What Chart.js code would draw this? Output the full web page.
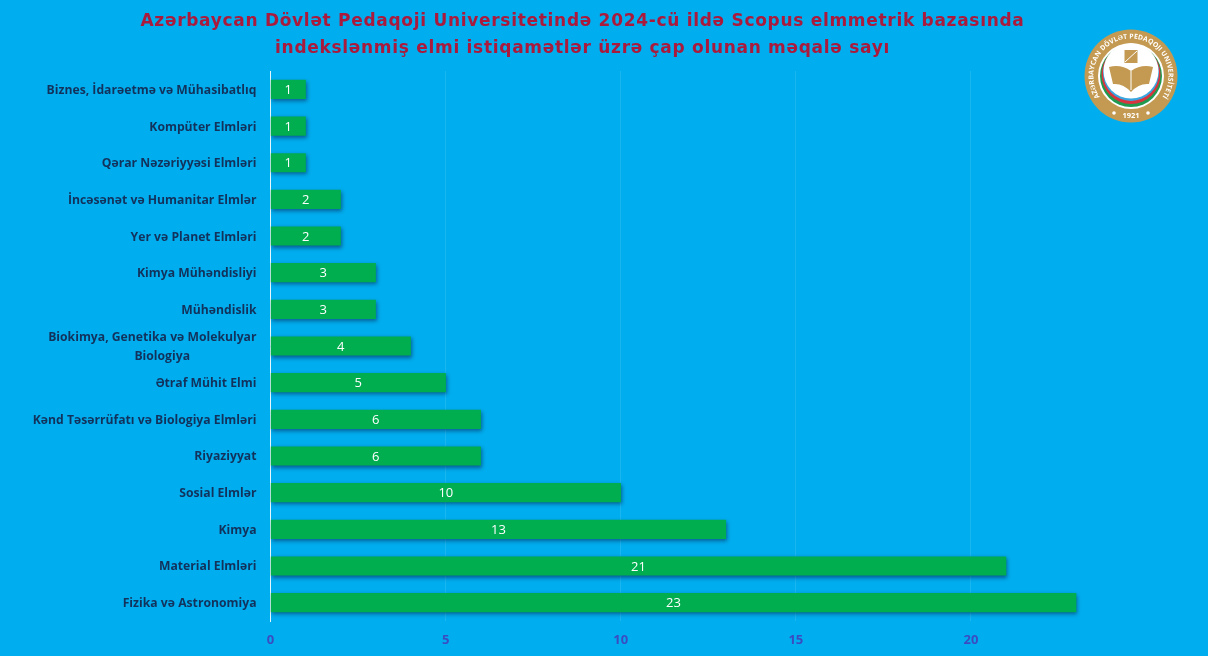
<!DOCTYPE html>
<html lang="az">
<head>
<meta charset="utf-8">
<title>Scopus məqalə sayı</title>
<script src="https://cdn.jsdelivr.net/npm/chart.js@4"></script>
<style>
  html, body { margin: 0; padding: 0; background: #00aeef; overflow: hidden; }
  #wrap { position: relative; width: 1208px; height: 656px; }
  #logo { position: absolute; left: 1081px; top: 26px; }
</style>
</head>
<body>
<div id="wrap">
  <canvas id="articles-chart" width="1208" height="656"></canvas>
  <svg id="logo" width="100" height="100" viewBox="-50 -50 100 100">
    <defs>
      <path id="ring-path" d="M -31 21.3 A 37.6 37.6 0 1 1 31 21.3"></path>
    </defs>
    <circle r="46.5" fill="#c49a52"></circle>
    <circle r="33" fill="#ffffff"></circle>
    <circle r="31" fill="#1f9a4e"></circle>
    <circle cy="-1.5" r="29.5" fill="#d8343f"></circle>
    <circle cy="-3" r="28" fill="#3aa6e0"></circle>
    <circle cy="-5" r="27.5" fill="#ffffff"></circle>
    <rect x="-6.5" y="-26" width="13" height="13" fill="#c49a52"></rect>
    <path d="M -6 -14 L 6 -25" stroke="#ffffff" stroke-width="1"></path>
    <path d="M -22 -9 Q -10 -12 0 -5 Q 10 -12 22 -9 L 18 8 Q 8 7 0 16 Q -8 7 -18 8 Z" fill="#c49a52"></path>
    <path d="M 0 -5 L 0 14" stroke="#ffffff" stroke-width="1"></path>
    <text font-family="Open Sans" font-weight="700" font-size="6.8" fill="#ffffff" letter-spacing="0.1">
      <textPath href="#ring-path" startOffset="50%" text-anchor="middle">AZƏRBAYCAN DÖVLƏT PEDAQOJI UNIVERSİTETİ</textPath>
    </text>
    <text y="41.5" text-anchor="middle" font-family="Open Sans" font-weight="700" font-size="7.5" fill="#ffffff">1921</text>
    <circle cx="-17" cy="37" r="1.8" fill="#ffffff"></circle>
    <circle cx="17" cy="37" r="1.8" fill="#ffffff"></circle>
  </svg>
</div>
<script>
// データ
const titleLines = [
    'Azərbaycan Dövlət Pedaqoji Universitetində 2024-cü ildə Scopus elmmetrik bazasında',
    'indekslənmiş elmi istiqamətlər üzrə çap olunan məqalə sayı'
];
const categories = [
    'Biznes, İdarəetmə və Mühasibatlıq',
    'Kompüter Elmləri',
    'Qərar Nəzəriyyəsi Elmləri',
    'İncəsənət və Humanitar Elmlər',
    'Yer və Planet Elmləri',
    'Kimya Mühəndisliyi',
    'Mühəndislik',
    ['Biokimya, Genetika və Molekulyar', 'Biologiya'],
    'Ətraf Mühit Elmi',
    'Kənd Təsərrüfatı və Biologiya Elmləri',
    'Riyaziyyat',
    'Sosial Elmlər',
    'Kimya',
    'Material Elmləri',
    'Fizika və Astronomiya'
];
const articleCounts = [1, 1, 1, 2, 2, 3, 3, 4, 5, 6, 6, 10, 13, 21, 23];

const labelFont = '"Open Sans", sans-serif';

// 棒の影
const barShadow = {
    id: 'barShadow',
    beforeDatasetDraw(chart) {
        const ctx = chart.ctx;
        ctx.save();
        ctx.shadowColor = 'rgba(10, 60, 110, 0.7)';
        ctx.shadowBlur = 4;
        ctx.shadowOffsetX = 1;
        ctx.shadowOffsetY = 2;
    },
    afterDatasetDraw(chart) {
        chart.ctx.restore();
    }
};

// 棒の中央に値を描く
const barValues = {
    id: 'barValues',
    afterDatasetsDraw(chart) {
        const ctx = chart.ctx;
        ctx.save();
        ctx.font = '13px ' + labelFont;
        ctx.fillStyle = '#ffffff';
        ctx.textAlign = 'center';
        ctx.textBaseline = 'middle';
        chart.getDatasetMeta(0).data.forEach((bar, i) => {
            ctx.fillText(articleCounts[i], (bar.x + bar.base) / 2, bar.y + 1);
        });
        ctx.restore();
    }
};

// タイトルの字間と中心位置を調整
const titleSpacing = {
    id: 'titleSpacing',
    beforeDraw(chart) {
        const block = chart.titleBlock;
        if (block.spacedDraw) return;
        const draw = block.draw;
        block.spacedDraw = true;
        block.draw = function () {
            const ctx = chart.ctx;
            ctx.save();
            ctx.letterSpacing = '0.7px';
            ctx.translate(27, 0);
            draw.call(block);
            ctx.restore();
        };
    }
};

new Chart(document.getElementById('articles-chart').getContext('2d'), {
    type: 'bar',
    data: {
        labels: categories,
        datasets: [{
            data: articleCounts,
            backgroundColor: '#00ad4f',
            borderWidth: 0,
            barThickness: 18.5
        }]
    },
    plugins: [barShadow, barValues, titleSpacing],
    options: {
        indexAxis: 'y',
        responsive: false,
        animation: false,
        layout: { padding: { top: 0, right: 97, bottom: 0, left: 0 } },
        plugins: {
            legend: { display: false },
            tooltip: { enabled: false },
            title: {
                display: true,
                text: titleLines,
                color: '#aa1a3c',
                font: { family: '"DejaVu Sans", sans-serif', size: 17, weight: 'bold', lineHeight: 1.59 },
                padding: { top: 8.5, bottom: 8.5 }
            }
        },
        scales: {
            x: {
                min: 0,
                max: 24,
                afterBuildTicks(scale) {
                    scale.ticks = scale.ticks.filter(t => t.value % 5 === 0);
                },
                ticks: {
                    stepSize: 5,
                    color: '#3a4cc0',
                    padding: 11,
                    font: { family: labelFont, size: 13, weight: 'bold' }
                },
                grid: { color: 'rgba(255, 255, 255, 0.1)', drawTicks: false },
                border: { display: false },
                afterFit(scale) { scale.height = 35; }
            },
            y: {
                ticks: {
                    autoSkip: false,
                    color: '#12325c',
                    padding: 14,
                    labelOffset: 1,
                    font: { family: labelFont, size: 12.2, weight: 'bold', lineHeight: 1.5 },
                    callback(value) {
                        const label = this.getLabelForValue(value);
                        // 2行目は1行目の中央に寄せる
                        if (Array.isArray(label)) return [label[0], label[1] + '\u00A0'.repeat(21)];
                        return label;
                    }
                },
                grid: { display: false, drawTicks: false },
                border: { color: 'rgba(255, 255, 255, 0.9)', width: 1 },
                afterFit(scale) { scale.width = 270.5; }
            }
        }
    }
});
</script>
</body>
</html>
